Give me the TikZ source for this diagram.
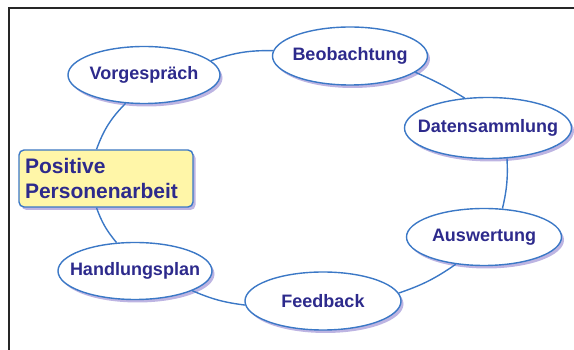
\documentclass[tikz,border=0pt]{standalone}
\usepackage{fontspec}
\setmainfont{Liberation Sans}
\usepackage{tikz}
\usetikzlibrary{shapes.geometric}
\usetikzlibrary{shadows}
\definecolor{rand}{HTML}{3B78C6}
\definecolor{schrift}{HTML}{2D2A8C}
\definecolor{schatten}{HTML}{BDB4E2}
\definecolor{gelb}{HTML}{FFF6A8}

\begin{document}
\begin{tikzpicture}[x=1pt,y=1pt,
        phase/.style={ellipse, draw=rand, line width=1.4pt, fill=white, inner sep=0pt,
            minimum width=155pt, minimum height=57pt,
            label={[phasetext]center:#1},
            drop shadow={shadow xshift=2.5pt, shadow yshift=-3pt, fill=schatten, opacity=1}},
        phasetext/.style={text=schrift, font=\fontsize{18}{21}\selectfont\bfseries},
        mainbox/.style={rectangle, rounded corners=5pt, draw=rand, line width=1.4pt, fill=gelb,
            minimum width=174pt, minimum height=57pt, text width=162pt, inner xsep=6pt,
            align=left, text=schrift, font=\fontsize{21}{25}\selectfont\bfseries,
            drop shadow={shadow xshift=2.5pt, shadow yshift=-3pt, fill=schatten, opacity=1}},
        link/.style={draw=rand, line width=1.4pt}]
        \useasboundingbox (0,0) rectangle (574,350);
        \clip (0,0) rectangle (574,350);
        % Rahmen
        \draw[line width=2pt, black!85] (9,-20) -- (9,342) -- (600,342);

        \node[mainbox] (box) at (106,171.5) {Positive\\Personenarbeit};
        \node[phase=Vorgespräch, minimum width=152pt] (vorg) at (144,275) {};
        \node[phase=Beobachtung, minimum height=58pt] (beob) at (350,294) {};
        \node[phase=Datensammlung, minimum width=167pt, minimum height=61pt] (daten) at (488,222) {};
        \node[phase=Auswertung] (ausw) at (484,113) {};
        \node[phase=Feedback, minimum width=156pt, minimum height=58pt] (feed) at (323,49) {};
        \node[phase=Handlungsplan, minimum width=154pt] (handl) at (135,79) {};

        \draw[link] (vorg.12) to[bend left=10] (beob.176);
        \draw[link] (beob.-14) to[bend left=4] (daten.128);
        \draw[link] (daten.-58) to[bend left=8] (ausw.57);
        \draw[link] (ausw.224) to[bend left=8] (feed.6);
        \draw[link] (feed.183) to[bend left=8] (handl.341);
        \draw[link] (handl.123) to[bend left=10] (box.252);
        \draw[link] (box.108) to[bend left=12] (vorg.237);
    \end{tikzpicture}
\end{document}
